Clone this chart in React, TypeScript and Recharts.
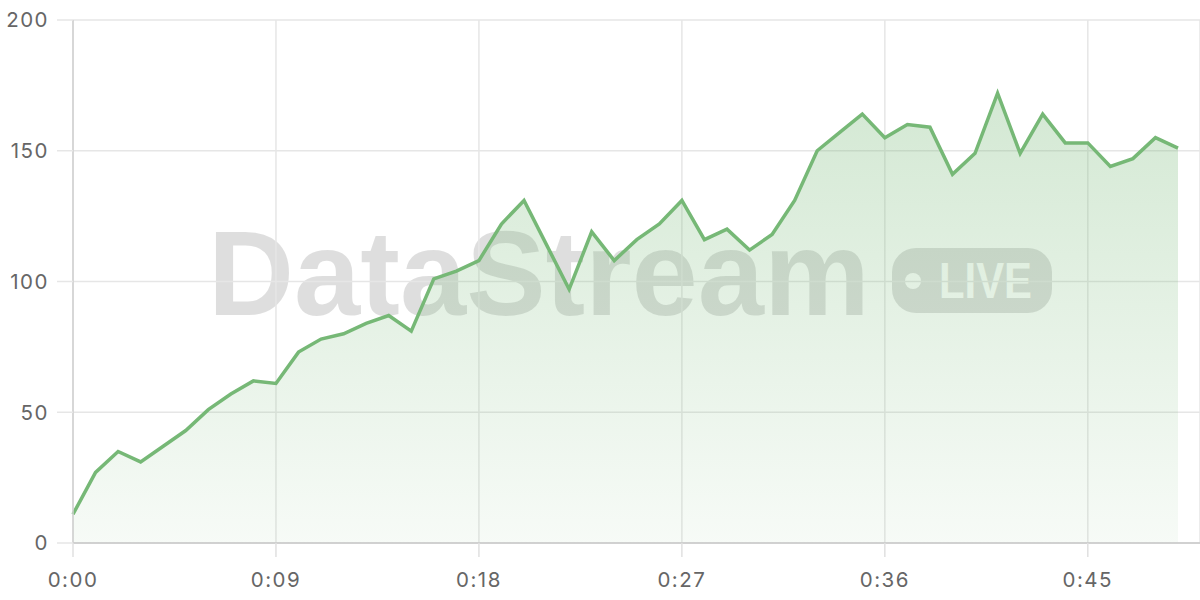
import { Area, AreaChart, CartesianGrid, XAxis, YAxis } from "recharts";

// one reading per second, 0:00 .. 0:49
const values = [
	11, 27, 35, 31, 37, 43, 51, 57, 62, 61,
	73, 78, 80, 84, 87, 81, 101, 104, 108, 122,
	131, 114, 97, 119, 108, 116, 122, 131, 116, 120,
	112, 118, 131, 150, 157, 164, 155, 160, 159, 141,
	149, 172, 149, 164, 153, 153, 144, 147, 155, 151,
];
const xTicks = [0, 9, 18, 27, 36, 45];
const yTicks = [0, 50, 100, 150, 200];

const data = values.map((v, i) => ({ t: i, value: v }));

const fmtTime = (s: number) => `${Math.floor(s / 60)}:${String(s % 60).padStart(2, "0")}`;

const GREEN = "#76b876";
const tickStyle = { fill: "#666", fontSize: 20.5, fontFamily: "Inter, sans-serif", letterSpacing: 1.5 };

function Watermark() {
	return (
		<svg width={1200} height={600} style={{ position: "absolute", left: 0, top: 0 }}>
			<text
				x={208}
				y={315}
				fontFamily="Liberation Sans, Arial, sans-serif"
				fontWeight={700}
				fontSize={120}
				fill="rgba(0,0,0,0.13)"
				textLength={662}
				lengthAdjust="spacingAndGlyphs"
			>
				DataStream
			</text>
			<rect x={892} y={248} width={160} height={65} rx={24} fill="rgba(0,0,0,0.13)" />
			<circle cx={913} cy={281} r={8} fill="#fff" />
			<text
				x={939}
				y={298}
				fontFamily="Liberation Sans, Arial, sans-serif"
				fontWeight={700}
				fontSize={50}
				fill="#fff"
				textLength={93}
				lengthAdjust="spacingAndGlyphs"
			>
				LIVE
			</text>
		</svg>
	);
}

export default function App() {
	return (
		<div style={{ position: "absolute", left: 0, top: 0, width: 1200, height: 600, background: "#fff" }}>
			<Watermark />
			<div style={{ position: "absolute", left: 0, top: 0 }}>
				<AreaChart width={1200} height={600} data={data} margin={{ top: 20, right: 0, left: 0, bottom: 0 }}>
					<defs>
						<linearGradient id="fillGreen" x1="0" x2="0" y1="0" y2="1">
							<stop offset="0%" stopColor={GREEN} stopOpacity={0.32} />
							<stop offset="100%" stopColor={GREEN} stopOpacity={0.06} />
						</linearGradient>
					</defs>
					<CartesianGrid stroke="#e6e6e6" strokeWidth={1.5} />
					<XAxis
						dataKey="t"
						type="number"
						domain={[0, 49]}
						ticks={xTicks}
						tickFormatter={fmtTime}
						padding={{ left: 0, right: 22 }}
						height={57}
						tickSize={14}
						tickMargin={15}
						stroke="#c8c8c8"
						strokeWidth={1.5}
						tickLine={{ stroke: "#e0e0e0" }}
						tick={tickStyle}
					/>
					<YAxis
						domain={[0, 200]}
						ticks={yTicks}
						width={73}
						tickSize={16}
						tickMargin={8}
						stroke="#d0d0d0"
						strokeWidth={1.5}
						tickLine={{ stroke: "#e6e6e6" }}
						tick={tickStyle}
					/>
					<Area
						type="linear"
						dataKey="value"
						stroke={GREEN}
						strokeWidth={3.5}
						fill="url(#fillGreen)"
						fillOpacity={1}
						dot={false}
						activeDot={false}
						isAnimationActive={false}
					/>
				</AreaChart>
			</div>
		</div>
	);
}
